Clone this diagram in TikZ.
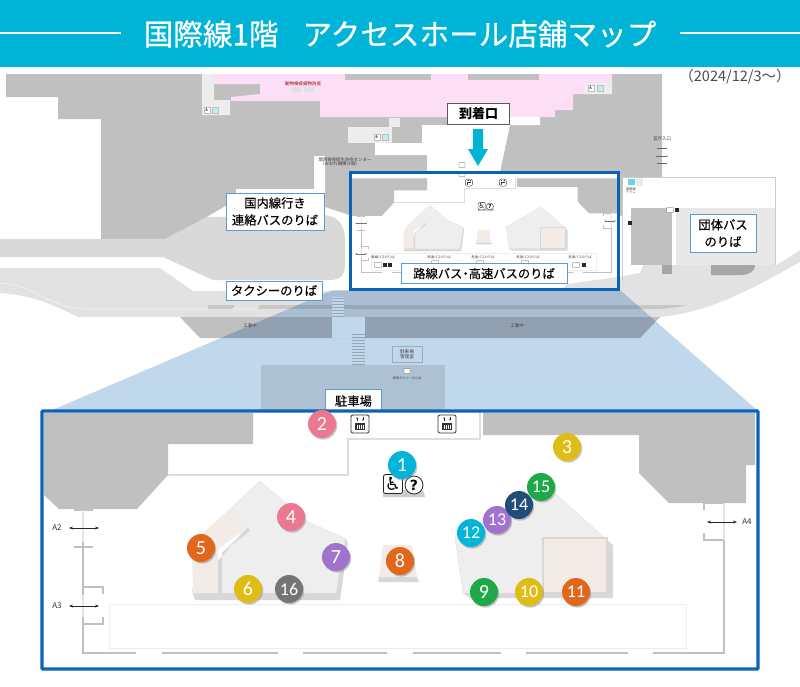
\documentclass[tikz,border=0pt]{standalone}
\usepackage{fontspec}
\setmainfont{Noto Sans CJK JP}
\newfontfamily\labelfont[FakeBold=0.25]{Noto Sans CJK JP}
\newfontfamily\titlefont[FakeBold=0.6]{Noto Sans CJK JP}
\newfontfamily\digitfont{Carlito}
\newfontfamily\symbolfont{DejaVu Sans}
\usetikzlibrary{shadows,arrows.meta}
\definecolor{headcyan}{HTML}{00B4D8}
\definecolor{wallgray}{HTML}{C0C0C0}
\definecolor{roadgray}{HTML}{E2E2E2}
\definecolor{lotgray}{HTML}{D9D9D9}
\definecolor{pinkfloor}{HTML}{FDDFF5}
\definecolor{beige}{HTML}{F2EBE6}
\definecolor{pavilion}{HTML}{EEEEEE}
\definecolor{pavside}{HTML}{D8D8D8}
\definecolor{framblue}{HTML}{0B62B8}
\definecolor{zoneblue}{HTML}{C1D7EC}
\definecolor{labelblue}{HTML}{5B9BD5}
\definecolor{shopcyan}{HTML}{05B4D9}
\definecolor{shoppink}{HTML}{E97890}
\definecolor{shopyellow}{HTML}{DFBD16}
\definecolor{shoporange}{HTML}{E0671B}
\definecolor{shoppurple}{HTML}{A074CE}
\definecolor{shopgreen}{HTML}{1FA84A}
\definecolor{shopnavy}{HTML}{1F4E79}
\definecolor{shopgray}{HTML}{757575}
\tikzset{
  shopmark/.style={circle,fill=#1,text=white,inner sep=0pt,minimum size=28pt,font=\digitfont\fontsize{20}{20}\selectfont,
    drop shadow={shadow xshift=1.2pt,shadow yshift=-1.6pt,opacity=.45}},
  placebox/.style={draw=labelblue,line width=1pt,fill=white,inner sep=0pt,align=center,font=\labelfont\fontsize{12.3}{17}\selectfont},
  tinytext/.style={inner sep=0pt,align=center,text=black!75,font=\fontsize{#1}{#1}\selectfont},
  tinyicon/.style={draw=black!70,fill=white,rounded corners=.5pt,line width=.3pt,inner sep=0pt,minimum width=#1,minimum height=5pt},
  tinyblack/.style={fill=black!85,inner sep=0pt,minimum size=4pt},
  restroom/.style={fill=white,draw=black!25,line width=.3pt,inner sep=0pt,minimum size=6pt,font=\symbolfont\fontsize{4.5}{4.5}\selectfont},
  elevatorbox/.pic={
    \draw[black!80,fill=white,rounded corners=2pt,line width=\iconw] (-9,-9) rectangle (9,9);
    \fill[black!80] (-5,-1) rectangle (5,6);
    \foreach \sx in {-3,-1,1,3} \draw[white,line width=.4*\iconw] (\sx,1) -- (\sx,5);
    \draw[black!80,line width=\iconw,-{Stealth[length=2pt*\iconscale]}] (-3,-3) -- (-3,-7);
    \draw[black!80,line width=\iconw,-{Stealth[length=2pt*\iconscale]}] (3,-7) -- (3,-3);
  }
}
\newcommand{\insetmap}[4]{%
  \def\iconw{#2}\def\iconscale{#3}
  \fill[wallgray] (44,413) -- (253,413) -- (253,444) -- (168,444) -- (168,475) -- (137,509) -- (59,509) -- (44,495) -- cycle;
  \fill[wallgray] (483,413) -- (755,413) -- (755,465) -- (746,465) -- (746,503) -- (669,503) -- (639,473) -- (639,435) -- (483,435) -- cycle;
  \draw[black!13,line width=.7*#1] (168,475) -- (348,475) -- (348,439) -- (480,439) -- (480,413);
  \draw[black!7,line width=.6*#1] (109,604) rectangle (686,648);
  \fill[pavside] (222,593) -- (336,593) -- (345,538) -- (348,543) -- (340,600) -- (222,600) -- cycle;
  \fill[pavilion,draw=black!10,line width=.3*#1] (260,481) -- (308,522) -- (345,538) -- (336,593) -- (222,593) -- (222,553) -- (248,527) -- (232,507) -- cycle;
  \fill[pavside] (248,527) -- (250,531) -- (222,553) -- (222,600) -- (195,600) -- (192,590) -- cycle;
  \fill[beige] (232,507) -- (248,527) -- (218,549) -- (218,593) -- (193,593) -- (192,552) -- (203,533) -- cycle;
  \fill[pavside] (463,593) -- (470,598) -- (613,598) -- (613,545) -- (607,540) -- cycle;
  \fill[pavilion,draw=black!10,line width=.3*#1] (455,537) -- (543,487) -- (557,495) -- (607,540) -- (607,593) -- (463,593) -- cycle;
  \fill[beige,draw=pavside,line width=.7*#1] (543,538) rectangle (607,593);
  \fill[pavside] (379,577) -- (417,577) -- (419,582) -- (378,582) -- cycle;
  \fill[beige] (383,545) -- (412,545) -- (417,577) -- (379,577) -- cycle;
  \fill[black!20] (383,490) -- (423,490) -- (425,497) -- (383,497) -- cycle;
  \node[draw=black!85,fill=white,rounded corners=2pt,line width=#2,inner sep=0pt,minimum size=19pt,transform shape,font=\symbolfont\fontsize{18}{18}\selectfont] (wheelchair#4) at (393,484) {♿};
  \node[circle,draw=black!85,fill=white,line width=#2,inner sep=0pt,minimum size=18pt,transform shape,font=\symbolfont\bfseries\fontsize{14}{14}\selectfont] (helpdesk#4) at (414,485) {?};
  \pic[transform shape] at (360,424) {elevatorbox};
  \pic[transform shape] at (447,424) {elevatorbox};
  \draw[wallgray,line width=#1] (74,510) -- (93,510);
  \draw[black!10,line width=#1] (83,510) -- (83,547);
  \draw[wallgray,line width=#1] (74,547) -- (93,547);
  \draw[wallgray,line width=#1] (83,542) -- (83,595);
  \draw[black!10,line width=#1] (83,595) -- (83,617);
  \draw[wallgray,line width=#1] (103,594) -- (103,587) -- (83,587);
  \draw[wallgray,line width=#1] (83,617) -- (83,653) -- (136,653);
  \draw[wallgray,line width=#1] (83,624) -- (103,624) -- (103,617);
  \draw[wallgray,line width=#1] (162,653) -- (278,653);
  \draw[wallgray,line width=#1] (303,653) -- (387,653);
  \draw[wallgray,line width=#1] (413,653) -- (501,653);
  \draw[wallgray,line width=#1] (526,653) -- (628,653);
  \draw[wallgray,line width=#1] (653,653) -- (724,653) -- (724,540) -- (704,540) -- (704,533);
  \draw[wallgray,line width=#1] (704,510) -- (704,503) -- (724,503) -- (724,510);
  \draw[black!10,line width=#1] (724,503) -- (724,540);
  \draw[{Stealth[length=4pt*#3]}-{Stealth[length=4pt*#3]},\arrowcol,line width=.5pt*#3] (69,528) -- (99,528);
  \draw[{Stealth[length=4pt*#3]}-{Stealth[length=4pt*#3]},\arrowcol,line width=.5pt*#3] (69,606) -- (99,606);
  \draw[{Stealth[length=4pt*#3]}-{Stealth[length=4pt*#3]},\arrowcol,line width=.5pt*#3] (707,522) -- (737,522);
}
\begin{document}
\begin{tikzpicture}[x=1pt,y=-1pt]
\useasboundingbox (0,0) rectangle (800,686);
\fill[white] (0,0) rectangle (800,686);
\fill[headcyan] (0,0) rectangle (800,67);
\draw[white,line width=2.4pt] (0,33) -- (121,33);
\draw[white,line width=2.4pt] (680,33) -- (800,33);
\node[text=white,inner sep=0pt,font=\titlefont\fontsize{29.6}{30}\selectfont] (title) at (400,34) {国際線1階\hspace{24pt}アクセスホール店舗マップ};
\node[inner sep=0pt,text=black!70,font=\fontsize{14.5}{14.5}\selectfont] (issued) at (735,77) {（2024/12/3～）};
\fill[wallgray] (6,74) -- (662,74) -- (662,177) -- (622,177) -- (622,216) -- (325,216) -- (325,156) -- (314,156) -- (314,189) -- (236,189) -- (236,200) -- (207,217) -- (167,240) -- (101,240) -- (101,119) -- (58,119) -- (58,97) -- (6,97) -- cycle;
\fill[pinkfloor] (202,74) -- (345,74) -- (345,80) -- (539,80) -- (539,74) -- (612,74) -- (612,94) -- (573,94) -- (573,110) -- (555,110) -- (555,117) -- (320,117) -- (320,101) -- (231,101) -- (231,97) -- (260,94) -- (260,84) -- (214,84) -- (214,74) -- cycle;
\fill[pinkfloor] (431,74) rectangle (468,80);
\fill[black!7] (202,74) -- (214,74) -- (214,100) -- (230,100) -- (230,115) -- (202,115) -- cycle;
\fill[black!7] (584,83) rectangle (612,94);
\fill[black!12] (292,87) rectangle (301,92);
\fill[black!12] (304,87) rectangle (314,92);
\fill[black!7] (348,127) rectangle (392,143);
\fill[black!7] (389,118) rectangle (400,127);
\foreach \rx/\ry/\rid in {207/110/a,377/137/b,591/88/c}
  \node[restroom] (chair\rid) at (\rx,\ry) {♿};
\foreach \rx/\ry/\rid in {215/110/a,385/137/b,600/88/c}
  \node[restroom,fill=headcyan!25] (toilet\rid) at (\rx,\ry) {};
\fill[white] (447,117) -- (540,117) -- (540,125) -- (510,125) -- (500,172) -- (427,172) -- (427,155) -- (375,155) -- (375,143) -- (422,143) -- (422,125) -- (447,125) -- cycle;
\fill[white] (236,189) -- (314,189) -- (314,156) -- (325,156) -- (325,207) -- (352,216) -- (352,292) -- (150,292) -- (207,217) -- (236,200) -- cycle;
\fill[white] (350,172) rectangle (618,289);
\fill[lotgray] (0,239) -- (165,239) -- (207,217) -- (322,215) .. controls (338,215) and (345,225) .. (345,240) -- (345,265) .. controls (345,275) and (340,280) .. (330,280) -- (213,280) -- (163,257) -- (0,257) -- cycle;
\fill[roadgray] (0,268) -- (160,268) -- (193,291) -- (560,291) -- (567,284) -- (618,277) -- (640,273) -- (643,265) -- (777,265) -- (800,250) -- (800,262) .. controls (750,290) and (710,312) .. (660,317) -- (78,317) .. controls (50,303) and (30,295) .. (0,293) -- cycle;
\draw[white,opacity=.6,line width=.6pt] (0,283) .. controls (35,285) and (50,308) .. (85,309) -- (350,309);
\fill[black!22] (208,305) -- (235,305) -- (232,309) -- (208,309) -- cycle;
\fill[black!22] (260,305) -- (687,305) .. controls (680,307) and (670,308) .. (660,309) -- (258,309) -- cycle;
\fill[wallgray] (180,317) -- (660,317) -- (640,338) -- (200,338) -- cycle;
\fill[white] (332,317) rectangle (365,338);
\fill[black!10] (261,365) rectangle (445,410);
\draw[black!20,fill=white] (392,346) rectangle (422,362);
\fill[white] (332,297) rectangle (344,316);
\foreach \sy in {298,301,...,316} \draw[black!22,line width=.8pt] (332,\sy) -- (344,\sy);
\foreach \sy in {334,337,...,365} \draw[black!22,line width=.8pt] (352,\sy) -- (365,\sy);
\fill[white] (622,177) rectangle (775,265);
\draw[black!20,line width=1pt] (622,280) -- (622,177) -- (775,177) -- (775,265);
\fill[lotgray!60] (676,208) rectangle (775,265);
\fill[wallgray] (631,208) rectangle (672,265);
\fill[black!35] (662,265) rectangle (672,274);
\fill[black!35] (711,265) -- (755,265) .. controls (755,272) and (748,275) .. (740,275) -- (711,275) -- cycle;
\fill[black!8] (636,178) rectangle (643,186);
\fill[headcyan!60] (628,179) rectangle (635,185);
\draw[black!60,line width=.3pt] (657,148) -- (667,148);
\draw[black!60,line width=.3pt,-{Stealth[length=1.5pt]}] (656,156) -- (668,156);
\draw[black!60,line width=.3pt] (657,163) -- (667,163);
\fill[zoneblue,blend mode=multiply] (333,290) -- (620,290) -- (758,411) -- (50,411) -- cycle;
\node[tinytext=4.5,text=red!60!black] (quarantine) at (303,84) {動物検疫植物防疫};
\node[tinytext=4.4] (healthcenter) at (345,161.5) {関西検疫衛生防疫センター\\[-.4pt]\hspace{-10pt}（おおれ機構分館）};
\node[tinytext=4.5] (officegate) at (662,139) {官庁入口};
\node[tinytext=3.2] (shuttlesign) at (631,190.5) {国際線\\トイレ};
\node[tinytext=4.5] (worksleft) at (250,326) {工事中};
\node[tinytext=4.5] (worksright) at (517,326) {工事中};
\node[tinytext=4.6] (parkoffice) at (407,354) {駐車場\\管理室};
\node[tinytext=3.2] (taxisign) at (407,378) {専用タクシーのりば};
\node[tinyicon=6pt] (taxiicon) at (407,371) {};
\node[tinyicon=6pt] (exitupper) at (462,165) {};
\node[tinyicon=6pt] (exitlower) at (462,174) {};
\begin{scope}[shift={(328.5,17.3)},scale=.39]
\def\arrowcol{black!55}
\insetmap{.6pt}{.35pt}{.39}{small}
\end{scope}
\node[tinytext=3.3] (routeleft) at (383,257) {路線バスのりば};
\node[tinytext=3.3] (expressa) at (439,257) {高速バスのりば};
\node[tinytext=3.3] (expressb) at (483,257) {高速バスのりば};
\node[tinytext=3.3] (expressc) at (528,257) {高速バスのりば};
\node[tinytext=3.3] (expressd) at (580,257) {高速バスのりば};
\node[tinyicon=7pt] (busa) at (378,265) {};
\node[tinyblack] (busaa) at (385,265) {};
\node[tinyblack] (busab) at (390,265) {};
\node[tinyicon=7pt] (busb) at (435,263) {};
\node[tinyicon=7pt] (busc) at (480,263) {};
\node[tinyicon=7pt] (busd) at (525,263) {};
\node[tinyicon=7pt] (buse) at (576,265) {};
\node[tinyblack] (busea) at (584,265) {};
\node[tinyicon=7pt] (busf) at (670,210) {};
\node[tinyblack] (busfa) at (677,210) {};
\node[tinyblack] (busga) at (630,223) {};
\draw[framblue,line width=3pt] (350,172) rectangle (618,289);
\node[placebox,minimum width=166pt,minimum height=20pt] (routebus) at (484,273.5) {路線バス\kern-3pt・\kern-3pt高速バスのりば};
\node[placebox,minimum width=98pt,minimum height=37pt] (domesticbus) at (275,211.5) {国内線行き\\連絡バスのりば};
\node[placebox,minimum width=96pt,minimum height=19pt] (taxi) at (274,290.5) {タクシーのりば};
\node[placebox,minimum width=66pt,minimum height=38pt] (groupbus) at (723,233) {団体バス\\のりば};
\node[placebox,minimum width=56pt,minimum height=24pt] (parking) at (353.5,401) {駐車場};
\node[draw=black!65,line width=1.6pt,fill=white,inner sep=0pt,minimum width=62pt,minimum height=21pt,font=\bfseries\fontsize{13}{13}\selectfont] (arrival) at (478.5,114) {到着口};
\fill[headcyan] (473,129) -- (483,129) -- (483,149) -- (488,149) -- (478,166) -- (468,149) -- (473,149) -- cycle;
\fill[white] (42,411) rectangle (758,669);
\def\arrowcol{black!85}
\insetmap{1.5pt}{.8pt}{1}{large}
\node[inner sep=0pt,text=black!80,font=\fontsize{8}{8}\selectfont] (labelA2) at (57,528) {A2};
\node[inner sep=0pt,text=black!80,font=\fontsize{8}{8}\selectfont] (labelA3) at (57,606) {A3};
\node[inner sep=0pt,text=black!80,font=\fontsize{8}{8}\selectfont] (labelA4) at (747,522) {A4};
\draw[framblue,line width=3.2pt,rounded corners=1pt] (42,411) rectangle (758,669);
\foreach \num/\px/\py/\col in {1/402/465/shopcyan,2/322/424/shoppink,3/567/447/shopyellow,4/291/517/shoppink,5/201/548/shoporange,6/248/589/shopyellow,7/336/557/shoppurple,8/400/561/shoporange,9/484/592/shopgreen}
  \node[shopmark=\col] (shop\num) at (\px,\py) {\num};
\foreach \num/\px/\py/\col in {10/529/592/shopyellow,11/576/592/shoporange,12/471/533/shopcyan,13/497/520/shoppurple,14/519/505/shopnavy,15/541/487/shopgreen,16/289/589/shopgray}
  \node[shopmark=\col,font=\digitfont\fontsize{18}{18}\selectfont] (shop\num) at (\px,\py) {\num};
\end{tikzpicture}
\end{document}
